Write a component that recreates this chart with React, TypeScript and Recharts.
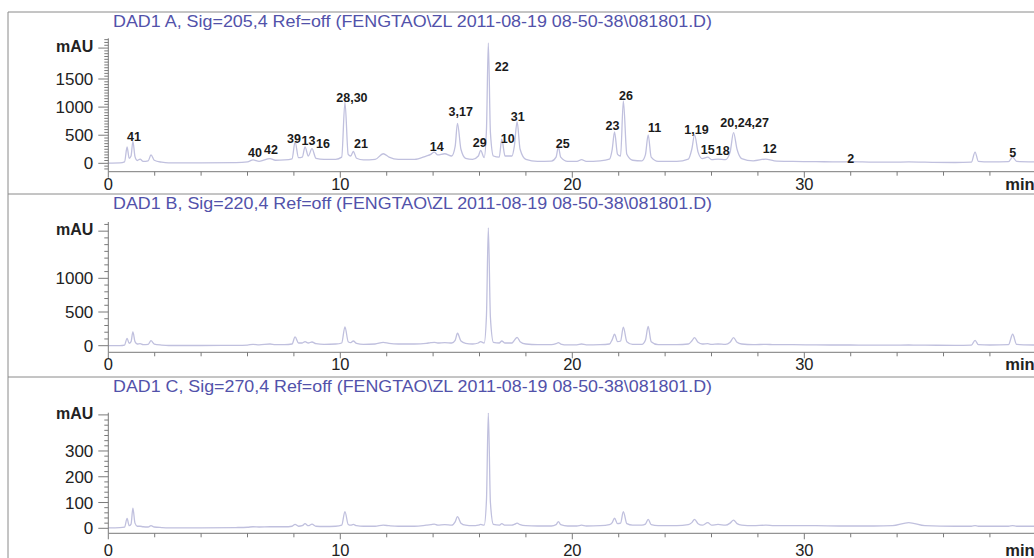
import { LineChart, Line, XAxis, YAxis, ReferenceDot } from "recharts";

// retention time (min) and absorbance (mAU)
const minutes = [
  0, 0.5, 0.7, 0.81, 0.9, 0.98, 1.06, 1.15, 1.25, 1.37,
  1.5, 1.72, 1.84, 1.98, 2.3, 2.6, 4.0, 5.5, 6.0, 6.24,
  6.5, 6.97, 7.2, 7.6, 7.92, 8.05, 8.2, 8.36, 8.48, 8.62,
  8.78, 8.95, 9.3, 9.8, 10.06, 10.2, 10.34, 10.45, 10.56, 10.7,
  11.0, 11.5, 11.85, 12.1, 12.5, 13.2, 13.7, 13.9, 14.05, 14.2,
  14.5, 14.8, 14.95, 15.05, 15.2, 15.4, 15.7, 15.95, 16.05, 16.2,
  16.3, 16.38, 16.47, 16.6, 16.85, 16.96, 17.1, 17.4, 17.5, 17.62,
  17.75, 18.0, 18.5, 19.1, 19.3, 19.4, 19.5, 19.8, 20.2, 20.4,
  20.6, 21.2, 21.6, 21.72, 21.82, 21.95, 22.08, 22.2, 22.35, 22.6,
  23.0, 23.15, 23.27, 23.4, 23.7, 24.5, 25.0, 25.15, 25.27, 25.42,
  25.6, 25.84, 26.0, 26.28, 26.6, 26.8, 26.95, 27.1, 27.3, 27.8,
  28.34, 28.7, 29.5, 30.5, 31.5, 32.0, 33.0, 33.8, 34.5, 35.2,
  36.5, 37.2, 37.36, 37.5, 38.0, 38.8, 38.98, 39.15, 39.9,
];

// DAD1 A, 205 nm
const mauA = [
  5, 8, 25, 290, 90, 130, 390, 120, 50, 75,
  35, 45, 150, 55, 20, 8, 8, 12, 25, 60,
  35, 85, 55, 60, 80, 380, 100, 110, 290, 130,
  260, 90, 70, 70, 110, 1090, 160, 130, 210, 90,
  60, 70, 170, 110, 70, 70, 130, 160, 200, 150,
  170, 130, 300, 710, 250, 90, 70, 130, 230, 100,
  600, 2140, 550, 130, 110, 430, 130, 130, 300, 740,
  250, 70, 35, 40, 110, 290, 110, 35, 35, 65,
  35, 45, 75, 250, 560, 160, 130, 1110, 160, 55,
  45, 150, 505, 110, 35, 35, 75, 250, 505, 200,
  85, 110, 65, 75, 65, 200, 545, 250, 85, 45,
  75, 45, 35, 30, 25, 30, 20, 20, 25, 20,
  15, 20, 200, 35, 25, 30, 110, 35, 25,
];

// DAD1 B, 220 nm
const mauB = [
  0, 2, 10, 110, 35, 60, 205, 60, 25, 30,
  15, 20, 75, 25, 10, 3, 3, 5, 10, 20,
  12, 25, 15, 15, 25, 130, 40, 40, 60, 40,
  55, 30, 20, 25, 40, 280, 60, 45, 70, 35,
  20, 25, 50, 35, 25, 25, 35, 45, 50, 40,
  45, 40, 80, 185, 70, 35, 25, 40, 60, 40,
  450, 1750, 420, 50, 40, 70, 40, 40, 80, 125,
  60, 25, 15, 15, 30, 45, 25, 12, 12, 25,
  12, 15, 25, 90, 170, 60, 70, 275, 60, 20,
  20, 80, 285, 60, 15, 15, 25, 70, 120, 50,
  25, 30, 20, 25, 20, 50, 120, 50, 25, 15,
  20, 15, 15, 12, 10, 10, 8, 8, 10, 8,
  5, 8, 80, 15, 10, 15, 170, 20, 10,
];

// DAD1 C, 270 nm
const mauC = [
  2, 3, 5, 38, 10, 16, 78, 20, 8, 8,
  6, 5, 10, 5, 3, 2, 2, 3, 4, 6,
  5, 6, 6, 6, 8, 15, 8, 10, 18, 10,
  16, 8, 7, 8, 12, 65, 15, 12, 15, 10,
  8, 8, 12, 10, 8, 8, 12, 14, 16, 12,
  14, 12, 25, 45, 20, 12, 10, 12, 15, 12,
  110, 448, 100, 15, 12, 18, 12, 12, 15, 20,
  14, 10, 9, 9, 14, 26, 14, 9, 9, 12,
  9, 10, 14, 22, 39, 18, 20, 65, 18, 12,
  12, 16, 35, 14, 10, 10, 14, 22, 35, 18,
  12, 22, 12, 15, 12, 20, 32, 18, 12, 10,
  12, 10, 10, 10, 9, 9, 9, 10, 22, 10,
  8, 8, 10, 8, 8, 8, 10, 8, 8,
];

// peak numbers written on trace A, with the spot (min, mAU) where each sits
const peakNames = [
  "41", "40", "42", "39", "13", "16", "28,30", "21", "14", "3,17",
  "29", "22", "10", "31", "25", "23", "26", "11", "1,19", "15",
  "18", "20,24,27", "12", "2", "5",
];
const peakTimes = [
  1.11, 6.32, 7.01, 8.0, 8.63, 9.25, 10.5, 10.89, 14.16, 15.19,
  16.01, 16.96, 17.22, 17.65, 19.59, 21.73, 22.31, 23.55, 25.35, 25.84,
  26.48, 27.43, 28.51, 32.0, 38.98,
];
const peakLevels = [
  468, 183, 237, 432, 400, 343, 1162, 343, 299, 913,
  370, 1718, 441, 829, 356, 669, 1197, 633, 592, 249,
  224, 722, 267, 87, 192,
];

const xTicks = [0, 2, 4, 6, 8, 10, 12, 14, 16, 18, 20, 22, 24, 26, 28, 30, 32, 34, 36, 38];

const titles = [
  "DAD1 A, Sig=205,4 Ref=off (FENGTAO\\ZL 2011-08-19 08-50-38\\081801.D)",
  "DAD1 B, Sig=220,4 Ref=off (FENGTAO\\ZL 2011-08-19 08-50-38\\081801.D)",
  "DAD1 C, Sig=270,4 Ref=off (FENGTAO\\ZL 2011-08-19 08-50-38\\081801.D)",
];

const FONT = "'Liberation Sans', Arial, Helvetica, sans-serif";
const AXIS = "#7a7a7a";
const TRACE = "#c0c0de";

const data = minutes.map((t, i) => ({ t, a: mauA[i], b: mauB[i], c: mauC[i] }));

const panels = [
  { key: "a", top: 0, height: 194, marginTop: 38.3, xHeight: 22.3, domain: [-149, 2224], majors: [0, 500, 1000, 1500], mau: 2050, step: 50, labelDy: 18, titleY: 26.7 },
  { key: "b", top: 194, height: 183, marginTop: 28, xHeight: 24.7, domain: [-98, 1836], majors: [0, 500, 1000], mau: 1700, step: 100, labelDy: 17.5, titleY: 209 },
  { key: "c", top: 377, height: 181, marginTop: 35.7, xHeight: 24.7, domain: [-19.4, 448.5], majors: [0, 100, 200, 300], mau: 440, step: 20, labelDy: 23, titleY: 391.5 },
];

function yTicksFor(min: number, max: number, step: number) {
  const out: number[] = [];
  for (let k = Math.ceil(min / step); k * step <= max; k++) out.push(k * step);
  return out;
}

const YTick = (props: any) => {
  const { x, y, payload, majors, mau } = props;
  const v = payload.value;
  const isMau = v === mau;
  const isMajor = isMau || majors.includes(v);
  return (
    <g>
      <line x1={x - (isMajor ? 10 : 4)} x2={x} y1={y} y2={y} stroke={AXIS} strokeWidth={1} />
      {isMajor && (
        <text
          x={x - 15}
          y={y}
          dy={isMau ? 4 : 6}
          textAnchor="end"
          fontSize={isMau ? 16 : 17}
          fontWeight={isMau ? 700 : 400}
          fontFamily={FONT}
          fill="#222"
        >
          {isMau ? "mAU" : v}
        </text>
      )}
    </g>
  );
};

const XTick = (props: any) => {
  const { x, y, payload, labelDy } = props;
  const v = payload.value;
  const major = v % 10 === 0;
  return (
    <g>
      <line x1={x} x2={x} y1={y} y2={y + (major ? 6 : 4)} stroke={AXIS} strokeWidth={1} />
      {major && (
        <text x={x} y={y + labelDy} textAnchor="middle" fontSize={16.5} fontFamily={FONT} fill="#222">
          {v}
        </text>
      )}
    </g>
  );
};

export default function App() {
  return (
    <div style={{ position: "absolute", left: 0, top: 0, width: 1034, height: 558, background: "#fff", overflow: "hidden", fontFamily: FONT }}>
      {panels.map((p) => (
        <div key={p.key} style={{ position: "absolute", left: 0, top: p.top, width: 1034, height: p.height }}>
          <LineChart width={1034} height={p.height} data={data} margin={{ top: p.marginTop, right: 0, bottom: 0, left: 0 }}>
            <XAxis
              type="number"
              dataKey="t"
              domain={[0, 39.9]}
              allowDataOverflow
              ticks={xTicks}
              interval={0}
              height={p.xHeight}
              tickSize={0}
              tickMargin={0}
              axisLine={{ stroke: AXIS }}
              tick={(tp: any) => <XTick {...tp} labelDy={p.labelDy} />}
            />
            <YAxis
              type="number"
              domain={p.domain}
              allowDataOverflow
              ticks={yTicksFor(p.domain[0], p.domain[1], p.step)}
              interval={0}
              width={108.3}
              tickSize={0}
              tickMargin={0}
              axisLine={{ stroke: AXIS }}
              tick={(tp: any) => <YTick {...tp} majors={p.majors} mau={p.mau} />}
            />
            <Line
              type="monotone"
              dataKey={p.key}
              stroke={TRACE}
              strokeWidth={1.3}
              dot={false}
              isAnimationActive={false}
            />
            {p.key === "a" &&
              peakNames.map((name, i) => (
                <ReferenceDot
                  key={name}
                  x={peakTimes[i]}
                  y={peakLevels[i]}
                  r={0}
                  fill="none"
                  stroke="none"
                  label={{ value: name, position: "center", fill: "#1a1a1a", fontSize: 12.5, fontWeight: 700, fontFamily: FONT }}
                />
              ))}
          </LineChart>
        </div>
      ))}
      <svg width={1034} height={558} style={{ position: "absolute", left: 0, top: 0, pointerEvents: "none" }}>
        <line x1={8} x2={1034} y1={12} y2={12} stroke="#8a8a8a" />
        <line x1={8} x2={8} y1={12} y2={558} stroke="#8a8a8a" />
        <line x1={8} x2={1034} y1={194} y2={194} stroke="#8a8a8a" />
        <line x1={8} x2={1034} y1={377} y2={377} stroke="#8a8a8a" />
        {panels.map((p, i) => (
          <g key={p.key}>
            <text x={113} y={p.titleY} fontSize={17} textLength={599} lengthAdjust="spacingAndGlyphs" fontFamily={FONT} fill="#5252aa">
              {titles[i]}
            </text>
            <text x={1020} y={p.top + p.height - p.xHeight + p.labelDy} textAnchor="middle" fontSize={16.5} fontWeight={700} fontFamily={FONT} fill="#222">
              min
            </text>
          </g>
        ))}
      </svg>
    </div>
  );
}
